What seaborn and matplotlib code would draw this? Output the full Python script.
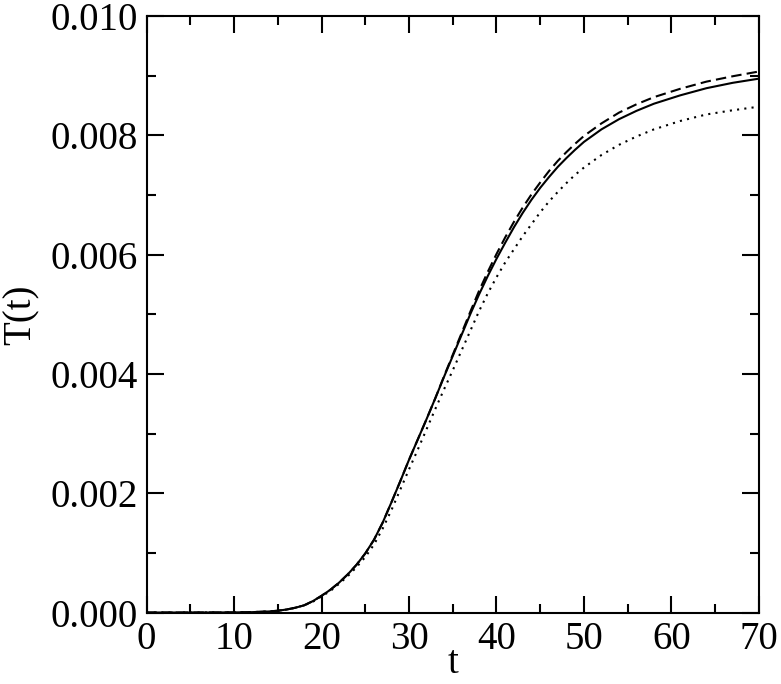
import numpy as np
import pandas as pd
import matplotlib
matplotlib.use("Agg")
import matplotlib.pyplot as plt
import seaborn as sns
from matplotlib.ticker import MultipleLocator, FormatStrFormatter

# values
t = [0, 5, 10, 12, 14, 15, 16, 17, 18, 19, 20, 21, 22, 23, 24, 25, 26, 27, 28, 29,
     30, 31, 32, 33, 34, 35, 36, 37, 38, 39, 40, 41, 42, 43, 44, 45, 46, 47, 48, 49,
     50, 52, 54, 56, 58, 61, 64, 67, 70]

T_solid = [0, 0, 0.000002, 0.000006, 0.000018, 0.00003, 0.00005, 0.00008, 0.00012, 0.00019,
           0.00028, 0.00038, 0.00050, 0.00064, 0.00080, 0.00099, 0.00122, 0.00151, 0.00185, 0.00220,
           0.00256, 0.00290, 0.00324, 0.00359, 0.00395, 0.00430, 0.00465, 0.00500, 0.00533, 0.00564,
           0.00593, 0.00620, 0.00646, 0.00670, 0.00692, 0.00712, 0.00730, 0.00747, 0.00762, 0.00776,
           0.00789, 0.00810, 0.00827, 0.00841, 0.00853, 0.00867, 0.00879, 0.00888, 0.00895]

T_dashed = [0, 0, 0.000002, 0.000006, 0.000018, 0.00003, 0.00005, 0.00008, 0.00012, 0.00019,
            0.00028, 0.00038, 0.00050, 0.00064, 0.00080, 0.00099, 0.00122, 0.00151, 0.00185, 0.00220,
            0.00256, 0.00290, 0.00324, 0.00359, 0.00396, 0.00432, 0.00468, 0.00504, 0.00539, 0.00571,
            0.00601, 0.00629, 0.00655, 0.00679, 0.00701, 0.00721, 0.00740, 0.00757, 0.00772, 0.00786,
            0.00799, 0.00820, 0.00838, 0.00852, 0.00864, 0.00878, 0.00890, 0.00899, 0.00907]

T_dotted = [0, 0, 0.000002, 0.000006, 0.000017, 0.00003, 0.00005, 0.00008, 0.00012, 0.00018,
            0.00027, 0.00036, 0.00048, 0.00061, 0.00076, 0.00093, 0.00114, 0.00141, 0.00172, 0.00206,
            0.00240, 0.00273, 0.00307, 0.00341, 0.00374, 0.00406, 0.00439, 0.00472, 0.00505, 0.00535,
            0.00562, 0.00587, 0.00609, 0.00631, 0.00651, 0.00671, 0.00689, 0.00705, 0.00720, 0.00734,
            0.00746, 0.00767, 0.00784, 0.00798, 0.00810, 0.00824, 0.00835, 0.00842, 0.00848]

series_names = ["solid", "dashed", "dotted"]

df = pd.DataFrame({"t": t * 3,
                   "T": T_solid + T_dashed + T_dotted,
                   "curve": np.repeat(series_names, len(t))})

sns.set_style("ticks")
plt.rcParams["font.family"] = ["Liberation Serif", "DejaVu Serif"]
plt.rcParams.update({
    "axes.linewidth": 1.5,
    "axes.edgecolor": "black",
    "axes.labelcolor": "black",
    "text.color": "black",
    "xtick.color": "black",
    "ytick.color": "black",
})

fig = plt.figure(figsize=(7.81, 6.84), dpi=100)
ax = fig.add_axes([0.1876, 0.1045, 0.9718 - 0.1876, 0.9766 - 0.1045])

sns.lineplot(data=df, x="t", y="T", style="curve", style_order=series_names,
             dashes={"solid": "", "dashed": (5, 2.5), "dotted": (1, 2.5)},
             color="black", linewidth=1.5, legend=False, ax=ax)

ax.set_xlim(0, 70)
ax.set_ylim(0, 0.010)
ax.xaxis.set_major_locator(MultipleLocator(10))
ax.xaxis.set_minor_locator(MultipleLocator(5))
ax.yaxis.set_major_locator(MultipleLocator(0.002))
ax.yaxis.set_minor_locator(MultipleLocator(0.001))
ax.yaxis.set_major_formatter(FormatStrFormatter("%.3f"))

ax.tick_params(which="both", direction="in", top=True, right=True, width=1.5,
               labelsize=28, pad=6)
ax.tick_params(which="major", length=12)
ax.tick_params(which="minor", length=6.5)

ax.set_xlabel("t", fontsize=28, labelpad=-9)
ax.set_ylabel("T(t)", fontsize=28, labelpad=8)

for s in ax.spines.values():
    s.set_visible(True)
    s.set_linewidth(1.5)

fig.savefig("out.png", dpi=100)
